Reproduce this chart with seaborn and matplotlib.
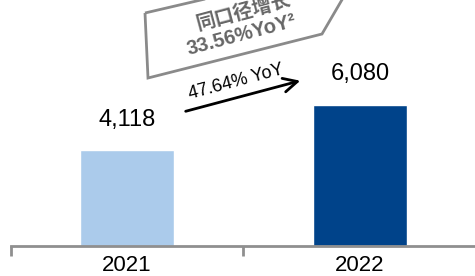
import matplotlib
matplotlib.use("Agg")

import matplotlib.pyplot as plt
import pandas as pd
import seaborn as sns
from matplotlib.patches import FancyArrowPatch, Polygon
from matplotlib.ticker import FixedLocator

# ── data ───────────────────────────────────────────────────────────────────
years = ["2021", "2022"]
revenue = [4118, 6080]
bar_colors = ["#ABCBEB", "#00438A"]
growth_label = "47.64% YoY"
like_for_like_title = "同口径增长"
like_for_like_label = "33.56%YoY²"
unit_label = "(人民币百万元)"

sns.set_style("white")
plt.rcParams["font.family"] = ["Liberation Sans", "Noto Sans CJK SC", "DejaVu Sans"]

W, H = 475, 276
fig = plt.figure(figsize=(W / 100, H / 100), dpi=100)
ax = fig.add_axes([10.5 / W, 1 - 245.5 / H, 466 / W, 245.5 / H])


def fx(px):
    return px / W


def fy(py):
    return 1 - py / H


df = pd.DataFrame({"year": years, "revenue": revenue})
sns.barplot(data=df, x="year", y="revenue", hue="year", palette=bar_colors,
            width=0.4, legend=False, saturation=1, ax=ax)

ax.set_xlim(-0.5, 1.5)
ax.set_ylim(0, 10600)
ax.set_xlabel("")
ax.set_ylabel("")
ax.set_yticks([])
for s in ["top", "right", "left"]:
    ax.spines[s].set_visible(False)
ax.spines["bottom"].set_color("#8F8F8F")
ax.spines["bottom"].set_linewidth(2)

ax.xaxis.set_minor_locator(FixedLocator([-0.5, 0.5, 1.5]))
ax.tick_params(axis="x", which="minor", length=7, width=2, color="#8F8F8F",
               direction="out", bottom=True)
ax.tick_params(axis="x", which="major", length=0, labelsize=16, pad=7,
               labelcolor="black")

# value labels
for i, v in enumerate(revenue):
    ax.annotate(f"{v:,}", (i, v), xytext=(0, 14), textcoords="offset points",
                ha="center", va="bottom", fontsize=17, color="black")

# growth arrow
fig.add_artist(FancyArrowPatch(
    (fx(183), fy(112)), (fx(303), fy(80)), transform=fig.transFigure,
    arrowstyle="->,head_length=10,head_width=5", lw=2, color="black",
    mutation_scale=1))
fig.text(fx(236), fy(82), growth_label, rotation=15, ha="center", va="center",
         fontsize=13, color="black", rotation_mode="anchor")

# like-for-like callout box
box = Polygon([(fx(145), fy(13)), (fx(148), fy(78)), (fx(322), fy(34)),
               (fx(364), fy(-38))],
              closed=True, fill=False, edgecolor="#8A8A8A", lw=2,
              joinstyle="miter", transform=fig.transFigure)
fig.add_artist(box)
fig.text(fx(244), fy(12), like_for_like_title, rotation=15, ha="center",
         va="center", fontsize=14, fontweight="bold", color="#666666",
         rotation_mode="anchor")
fig.text(fx(241), fy(35), like_for_like_label, rotation=15, ha="center",
         va="center", fontsize=14.5, fontweight="bold", color="#666666",
         rotation_mode="anchor")

# unit label, cut off by the top edge as in the source
fig.text(fx(2), fy(0.5), unit_label, ha="left", va="bottom", fontsize=10,
         color="black")

fig.savefig("out.png", dpi=100)
